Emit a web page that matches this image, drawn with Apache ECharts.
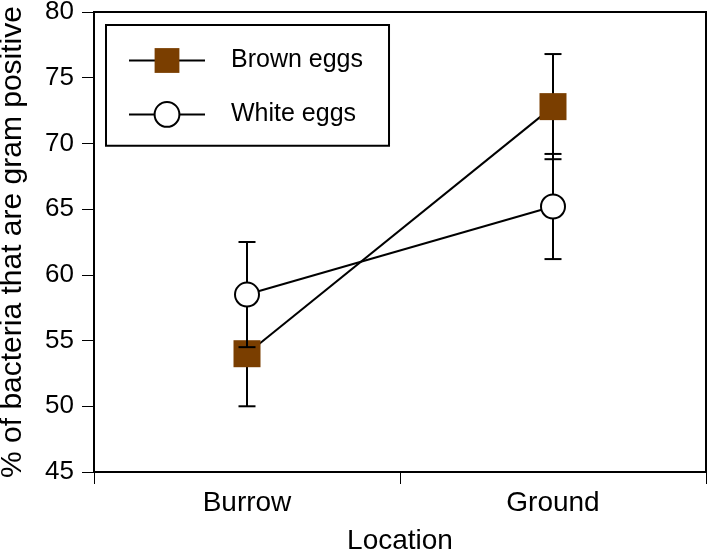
<!DOCTYPE html>
<html>
<head>
<meta charset="utf-8">
<script src="https://cdn.jsdelivr.net/npm/echarts@6/dist/echarts.min.js"></script>
<style>html,body{margin:0;padding:0;background:#fff;}#c{width:709px;height:552px;}</style>
</head>
<body>
<div id="c"></div>
<script>
const categories = ['Burrow', 'Ground'];
const brownMean = [54.0, 72.8];
const brownErr = [4.0, 4.0];
const whiteMean = [58.5, 65.2];
const whiteErr = [4.0, 4.0];
const yTicks = [45, 50, 55, 60, 65, 70, 75, 80];

const FONT = '"Liberation Sans", Arial, Helvetica, sans-serif';

function errData(mean, err) {
  return categories.map((c, i) => [i, mean[i], err[i]]);
}
function renderErr(params, api) {
  const x = api.value(0), m = api.value(1), e = api.value(2);
  const t = api.coord([x, m + e]);
  const b = api.coord([x, m - e]);
  const hw = 8.5;
  const st = { stroke: '#000', lineWidth: 2 };
  return {
    type: 'group',
    children: [
      { type: 'line', shape: { x1: t[0], y1: t[1], x2: b[0], y2: b[1] }, style: st },
      { type: 'line', shape: { x1: t[0] - hw, y1: t[1], x2: t[0] + hw, y2: t[1] }, style: st },
      { type: 'line', shape: { x1: b[0] - hw, y1: b[1], x2: b[0] + hw, y2: b[1] }, style: st }
    ]
  };
}

const chart = echarts.init(document.getElementById('c'));
chart.setOption({
  animation: false,
  textStyle: { fontFamily: FONT, color: '#000' },
  grid: { left: 94, right: 3, top: 12, bottom: 80, show: true, borderColor: '#000', borderWidth: 2, containLabel: false, outerBoundsMode: 'none' },
  legend: {
    data: ['Brown eggs', 'White eggs'],
    orient: 'vertical',
    left: 106, top: 25,
    borderColor: '#000', borderWidth: 2,
    padding: [23, 26, 18, 22],
    itemWidth: 76, itemHeight: 31, itemGap: 28,
    textStyle: { fontSize: 25, fontFamily: FONT, color: '#000', padding: [0, 0, 0, 21] }
  },
  xAxis: {
    type: 'category',
    data: categories,
    boundaryGap: true,
    name: 'Location', nameLocation: 'middle', nameGap: 55,
    nameTextStyle: { fontSize: 28, fontFamily: FONT, color: '#000' },
    axisLine: { lineStyle: { color: '#000', width: 2 } },
    axisTick: { show: true, length: 12, lineStyle: { color: '#000', width: 1 } },
    axisLabel: { fontSize: 28, fontFamily: FONT, color: '#000', margin: 17 },
    splitLine: { show: false }
  },
  yAxis: {
    type: 'value',
    min: yTicks[0], max: yTicks[yTicks.length - 1], interval: 5,
    name: '% of bacteria that are gram positive', nameLocation: 'middle', nameGap: 66,
    nameTextStyle: { fontSize: 30, fontFamily: FONT, color: '#000' },
    axisLine: { show: true, lineStyle: { color: '#000', width: 2 } },
    axisTick: { show: true, length: 12, lineStyle: { color: '#000', width: 1 } },
    axisLabel: { fontSize: 26, fontFamily: FONT, color: '#000', margin: 20 },
    splitLine: { show: false }
  },
  series: [
    { type: 'custom', renderItem: renderErr, data: errData(brownMean, brownErr), z: 1, silent: true },
    {
      name: 'Brown eggs', type: 'line', data: brownMean, z: 2,
      symbol: 'rect', symbolSize: 27,
      lineStyle: { color: '#000', width: 2 },
      itemStyle: { color: '#7a3e00', borderWidth: 0 }
    },
    { type: 'custom', renderItem: renderErr, data: errData(whiteMean, whiteErr), z: 3, silent: true },
    {
      name: 'White eggs', type: 'line', data: whiteMean, z: 4,
      symbol: 'circle', symbolSize: 24,
      lineStyle: { color: '#000', width: 2 },
      itemStyle: { color: '#fff', borderColor: '#000', borderWidth: 2 }
    }
  ]
});
</script>
</body>
</html>
